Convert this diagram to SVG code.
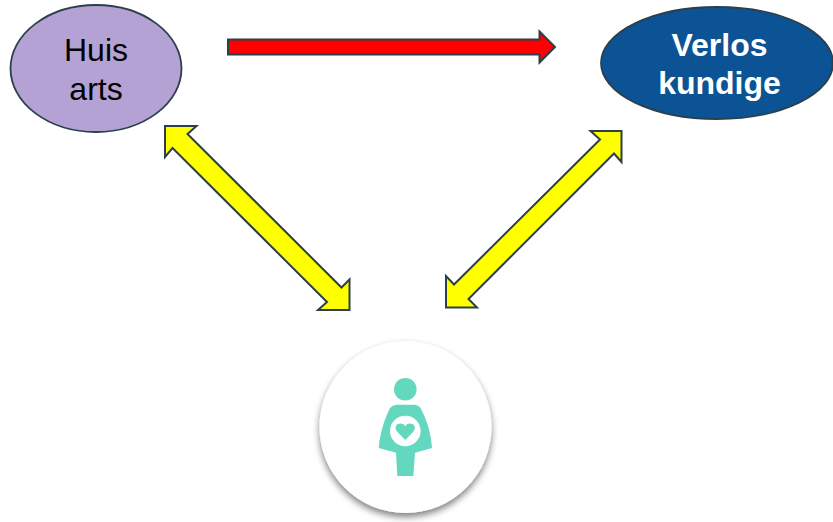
<svg xmlns="http://www.w3.org/2000/svg" width="833" height="522" viewBox="0 0 833 522">
<style>
.arrow{stroke:#2b3f4c;stroke-width:2;stroke-linejoin:miter}
.yellow{fill:#ffff00}
.label{font-family:"Liberation Sans",Arial,sans-serif;font-size:32px;text-anchor:middle}
.fig{fill:#63d8be}
</style>
<defs>
<filter id="sh" x="-20%" y="-20%" width="140%" height="140%">
<feGaussianBlur in="SourceAlpha" stdDeviation="3.500"/>
<feOffset dx="0" dy="4"/>
<feComponentTransfer><feFuncA type="linear" slope="0.5"/></feComponentTransfer>
<feMerge><feMergeNode/><feMergeNode in="SourceGraphic"/></feMerge>
</filter>
</defs>
<rect width="833" height="522" fill="#ffffff"/>
<g id="connectors">
<polygon class="arrow" fill="#ff0000" points="228,39.500 539.500,39.500 539.500,31.500 555,47 539.500,62.500 539.500,54.500 228,54.500"/>
<polygon class="arrow yellow" points="165,126 196.500,126 187.500,134 341.500,287.500 349.500,279.500 349.500,310 318,310 327,302 172.500,148 165,157"/>
<polygon class="arrow yellow" points="621.500,131 590.500,131 600,139.500 454,284.500 446,276 446,307.500 477,307.500 468.500,299 614,153.500 621.500,162"/>
</g>
<g id="huisarts">
<ellipse cx="96" cy="68.500" rx="85.500" ry="63.500" fill="#b3a2d3" stroke="#2b3f4c" stroke-width="1.800"/>
<text class="label" x="96" y="61" fill="#000000">Huis</text>
<text class="label" x="96" y="100" fill="#000000">arts</text>
</g>
<g id="verloskundige">
<ellipse cx="717" cy="63" rx="116" ry="56" fill="#0b5394" stroke="#2b3f4c" stroke-width="1.800"/>
<text class="label" x="719.500" y="55.500" fill="#ffffff" font-weight="bold">Verlos</text>
<text class="label" x="719.500" y="93.500" fill="#ffffff" font-weight="bold">kundige</text>
</g>
<g id="zwangere">
<circle cx="405.500" cy="427" r="86" fill="#ffffff" filter="url(#sh)"/>
<circle class="fig" cx="405.300" cy="389.300" r="11.300"/>
<path class="fig" d="M396.500 404.700 L415 404.700 Q418.500 405 420.500 408 C426 418 431 432 432 448 L415 452.700 L413.300 476 L397.300 476 L396 452.700 L378.700 448 C380 432 385 418 390 408 Q392.500 405 396.500 404.700 Z"/>
<circle cx="405.300" cy="431" r="15.300" fill="#ffffff"/>
<path class="fig" d="M405.300 440 L397 431.500 C393.500 427 397 423.500 400.500 423.500 C403 423.500 404.500 424.500 405.300 426.500 C406 424.500 407.500 423.500 410 423.500 C413.500 423.500 417 427 413.500 431.500 Z"/>
</g>
</svg>
